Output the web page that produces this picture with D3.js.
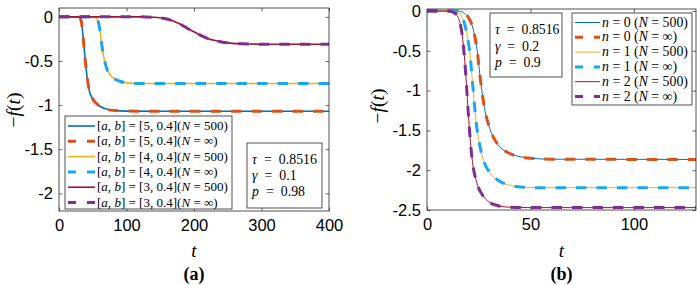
<!DOCTYPE html>
<html>
<head>
<meta charset="utf-8">
<script src="https://cdn.jsdelivr.net/npm/d3@7"></script>
<style>
  body { margin: 0; background: #fff; }
  svg text { fill: #000; }
</style>
</head>
<body>
<script>
// ---- data ----
// panel (a): -f(t) for [a, b] = [5,0.4], [4,0.4], [3,0.4]
var tA5 = [0, 20, 30, 33, 36, 39, 42, 45, 50, 55, 60, 70, 80, 100, 150, 250, 400];
var fA5 = [0, 0, -0.005, -0.05, -0.25, -0.5, -0.7, -0.84, -0.93, -0.98, -1.01, -1.045, -1.06, -1.068, -1.07, -1.07, -1.07];
var tA4 = [0, 50, 55, 58, 61, 64, 67, 70, 75, 80, 90, 100, 110, 130, 200, 400];
var fA4 = [0, 0, -0.01, -0.05, -0.17, -0.35, -0.48, -0.57, -0.65, -0.69, -0.73, -0.748, -0.754, -0.756, -0.756, -0.756];
var tA3 = [0, 120, 140, 160, 170, 180, 190, 200, 210, 220, 235, 250, 270, 300, 400];
var fA3 = [0, 0, -0.005, -0.025, -0.05, -0.085, -0.13, -0.17, -0.21, -0.245, -0.275, -0.295, -0.305, -0.31, -0.31];

// panel (b): -f(t) for n = 0, 1, 2
var tB0 = [0, 15, 18, 20, 22, 24, 26, 28, 30, 32, 35, 40, 45, 50, 60, 130];
var fB0 = [0, 0, -0.03, -0.08, -0.2, -0.45, -0.9, -1.25, -1.45, -1.58, -1.7, -1.79, -1.83, -1.85, -1.862, -1.865];
var tB1 = [0, 12, 15, 17, 19, 21, 22, 23, 24, 25, 27, 30, 34, 40, 45, 55, 130];
var fB1 = [0, 0, -0.02, -0.08, -0.25, -0.6, -0.9, -1.2, -1.45, -1.62, -1.85, -2.02, -2.12, -2.19, -2.21, -2.22, -2.22];
var tB2 = [0, 10, 13, 15, 17, 18, 19, 20, 21, 22, 24, 27, 30, 35, 40, 50, 130];
var fB2 = [0, 0, -0.02, -0.08, -0.3, -0.55, -0.9, -1.3, -1.65, -1.9, -2.15, -2.32, -2.4, -2.45, -2.465, -2.47, -2.47];

var ticksXA = [0, 100, 200, 300, 400];
var ticksYA = [0, -0.5, -1, -1.5, -2];
var ticksXB = [0, 50, 100];
var ticksYB = [0, -0.5, -1, -1.5, -2, -2.5];

var legendA = ["5", "5", "4", "4", "3", "3"];
var legendB = ["0", "0", "1", "1", "2", "2"];
var legendN = ["500", "\u221E", "500", "\u221E", "500", "\u221E"];
var paramsA = ["0.8516", "0.1", "0.98"];
var paramsB = ["0.8516", "0.2", "0.9"];

var colors = ["#0072BD", "#D95319", "#EDB120", "#1AA7F2", "#A2142F", "#7E2F8E"];

var svg = d3.select("body").append("svg")
    .attr("width", 697).attr("height", 285);

var serif = "'Liberation Serif', 'DejaVu Serif', serif";
var sans = "'Liberation Sans', Arial, sans-serif";

function mathText(sel, parts) {
  // parts: [text, italic?]
  parts.forEach(function(p) {
    sel.append("tspan").text(p[0]).style("font-style", p[1] ? "italic" : "normal");
  });
  return sel;
}

// scale a group of texts so the first one gets the wanted width
function fitFont(texts, wanted, fs0) {
  var w = texts[0].node().getComputedTextLength();
  var fs = fs0 * wanted / w;
  texts.forEach(function(t) { t.style("font-size", fs + "px"); });
}

// widen a group of texts with letter spacing so the first one gets the wanted width
function fitSpacing(texts, wanted) {
  var node = texts[0].node();
  var w = node.getComputedTextLength();
  var n = node.textContent.length;
  var ls = Math.max(0, (wanted - w) / n);
  texts.forEach(function(t) { t.style("letter-spacing", ls + "px"); });
}

function panel(cfg) {
  var x = d3.scaleLinear().domain(cfg.xDomain).range([cfg.left, cfg.right]);
  var y = d3.scaleLinear().domain(cfg.yDomain).range([cfg.bottom, cfg.top]);
  var g = svg.append("g");

  g.append("clipPath").attr("id", cfg.id + "clip")
    .append("rect").attr("x", cfg.left).attr("y", cfg.top)
    .attr("width", cfg.right - cfg.left).attr("height", cfg.bottom - cfg.top);

  // axes (ticks inward, on all four sides like MATLAB)
  var tl = 3.5;
  g.append("g").attr("transform", "translate(0," + cfg.bottom + ")")
    .call(d3.axisBottom(x).tickValues(cfg.xTicks).tickSize(-tl).tickPadding(8).tickFormat(d3.format("d")))
    .call(function(a) { a.select(".domain").remove(); });
  g.append("g").attr("transform", "translate(0," + cfg.top + ")")
    .call(d3.axisTop(x).tickValues(cfg.xTicks).tickSize(-tl).tickFormat(""))
    .call(function(a) { a.select(".domain").remove(); });
  g.append("g").attr("transform", "translate(" + cfg.left + ",0)")
    .call(d3.axisLeft(y).tickValues(cfg.yTicks).tickSize(-tl).tickPadding(6).tickFormat(function(d) { return String(d); }))
    .call(function(a) { a.select(".domain").remove(); });
  g.append("g").attr("transform", "translate(" + cfg.right + ",0)")
    .call(d3.axisRight(y).tickValues(cfg.yTicks).tickSize(-tl).tickFormat(""))
    .call(function(a) { a.select(".domain").remove(); });
  g.selectAll(".tick line").attr("stroke", "#262626").attr("stroke-width", 0.7);
  g.selectAll(".tick text").style("font-family", sans).style("font-size", "16.5px").attr("fill", "#000");

  // curves
  var line = d3.line().x(function(d) { return x(d[0]); }).y(function(d) { return y(d[1]); })
    .curve(d3.curveMonotoneX);
  var lg = g.append("g").attr("clip-path", "url(#" + cfg.id + "clip)");
  cfg.series.forEach(function(s, i) {
    var pts = s.t.map(function(t, k) { return [t, s.f[k]]; });
    // N = 500 solid
    lg.append("path").attr("d", line(pts)).attr("fill", "none")
      .attr("stroke", colors[2 * i]).attr("stroke-width", cfg.solidW);
    // N = inf dashed
    lg.append("path").attr("d", line(pts)).attr("fill", "none")
      .attr("stroke", colors[2 * i + 1]).attr("stroke-width", 3)
      .attr("stroke-dasharray", "10.5,10");
  });

  // frame
  g.append("rect").attr("x", cfg.left).attr("y", cfg.top)
    .attr("width", cfg.right - cfg.left).attr("height", cfg.bottom - cfg.top)
    .attr("fill", "none").attr("stroke", "#262626").attr("stroke-width", 0.8);

  // axis labels
  var cx = (cfg.left + cfg.right) / 2;
  mathText(g.append("text").attr("x", cx).attr("y", 257).attr("text-anchor", "middle")
    .style("font-family", serif).style("font-size", "19px"), [["t", 1]]);
  g.append("text").attr("x", cx).attr("y", 280).attr("text-anchor", "middle")
    .style("font-family", serif).style("font-size", "18px").style("font-weight", "bold")
    .text(cfg.tag);
  mathText(g.append("text").attr("transform", "translate(" + cfg.ylabX + "," + cfg.ylabY + ") rotate(-90)")
    .attr("text-anchor", "middle").style("font-family", serif).style("font-size", "19.5px"),
    [["\u2212", 0], ["f", 1], ["(", 0], ["t", 1], [")", 0]]);

  // parameter box
  var pb = cfg.pbox;
  g.append("rect").attr("x", pb.x).attr("y", pb.y).attr("width", pb.w).attr("height", pb.h)
    .attr("fill", "#fff").attr("stroke", "#262626").attr("stroke-width", 0.8);
  var names = ["\u03C4", "\u03B3", "p"];
  var ptexts = cfg.params.map(function(v, i) {
    return mathText(g.append("text").attr("x", pb.x + 5).attr("y", pb.y + pb.first + i * pb.step)
      .style("font-family", serif).style("font-size", "13.8px"),
      [[names[i], 1], ["\u2002=\u2002" + v, 0]]);
  });
  fitSpacing(ptexts, pb.tw);

  // legend
  var lb = cfg.lbox;
  g.append("rect").attr("x", lb.x).attr("y", lb.y).attr("width", lb.w).attr("height", lb.h)
    .attr("fill", "#fff").attr("stroke", "#262626").attr("stroke-width", 0.8);
  var ltexts = [];
  for (var i = 0; i < 6; i++) {
    var yy = lb.y + lb.first + i * lb.step;
    var dashed = i % 2 === 1;
    g.append("line").attr("x1", lb.x + 3).attr("x2", lb.x + 3 + lb.sample)
      .attr("y1", yy).attr("y2", yy).attr("stroke", colors[i])
      .attr("stroke-width", dashed ? 3 : cfg.solidW)
      .attr("stroke-dasharray", dashed ? "8,11" : null);
    var tx = g.append("text").attr("x", lb.x + 5 + lb.sample).attr("y", yy + 4)
      .style("font-family", serif).style("font-size", "12px");
    mathText(tx, cfg.legendParts(i));
    ltexts.push(tx);
  }
  fitFont(ltexts, lb.tl, 12);
}

panel({
  id: "a", tag: "(a)",
  left: 59, right: 329, top: 8, bottom: 211,
  xDomain: [0, 400], yDomain: [-2.2, 0.1],
  xTicks: ticksXA, yTicks: ticksYA, solidW: 1.6,
  ylabX: 20, ylabY: 110,
  series: [{t: tA5, f: fA5}, {t: tA4, f: fA4}, {t: tA3, f: fA3}],
  params: paramsA,
  pbox: {x: 247, y: 143, w: 75, h: 65, first: 21, step: 16, tw: 65},
  lbox: {x: 65, y: 116, w: 167, h: 93, first: 10, step: 15.3, sample: 27, tl: 131},
  legendParts: function(i) {
    return [["[", 0], ["a", 1], [", ", 0], ["b", 1], ["] = [" + legendA[i] + ", 0.4](", 0],
            ["N", 1], [" = " + legendN[i] + ")", 0]];
  }
});

panel({
  id: "b", tag: "(b)",
  left: 427, right: 696, top: 9, bottom: 210,
  xDomain: [0, 130], yDomain: [-2.5, 0.025],
  xTicks: ticksXB, yTicks: ticksYB, solidW: 1,
  ylabX: 384, ylabY: 106,
  series: [{t: tB0, f: fB0}, {t: tB1, f: fB1}, {t: tB2, f: fB2}],
  params: paramsB,
  pbox: {x: 490, y: 13, w: 72, h: 64, first: 21, step: 16.5, tw: 63},
  lbox: {x: 572, y: 13, w: 120, h: 92, first: 9.5, step: 14.8, sample: 25, tl: 86},
  legendParts: function(i) {
    return [["n", 1], [" = " + legendB[i] + " (", 0], ["N", 1], [" = " + legendN[i] + ")", 0]];
  }
});
</script>
</body>
</html>
